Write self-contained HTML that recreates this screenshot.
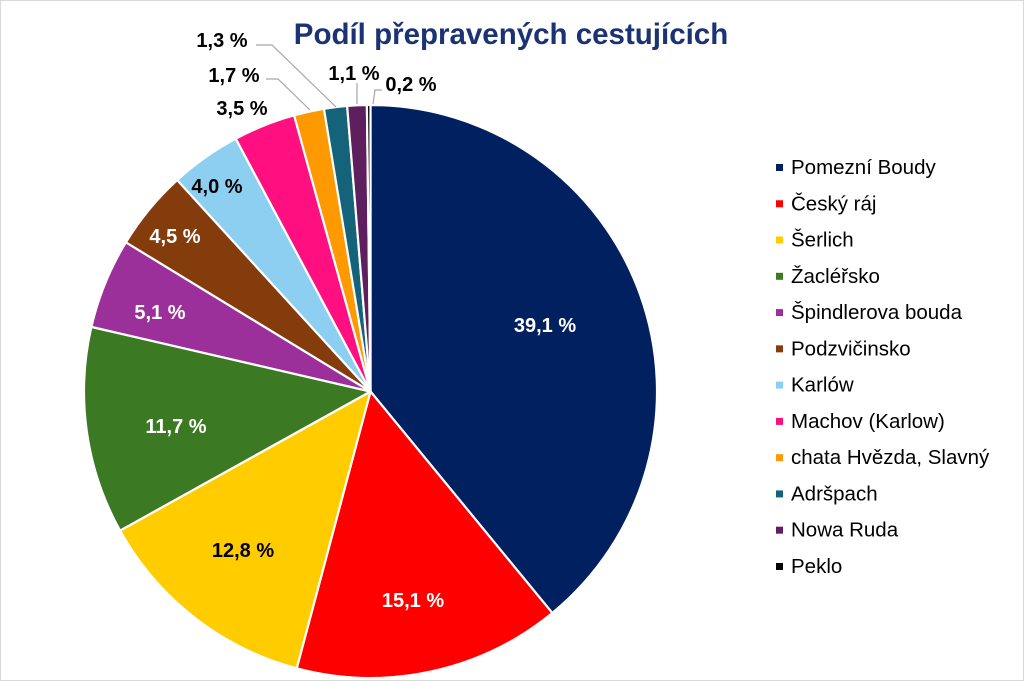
<!DOCTYPE html>
<html><head><meta charset="utf-8"><style>
body{margin:0;background:#fff;}
svg{display:block;font-family:"Liberation Sans",Arial,sans-serif;}
</style></head><body>
<svg id="s" width="1024" height="681" viewBox="0 0 1024 681" xmlns="http://www.w3.org/2000/svg">
<rect x="0.5" y="0.5" width="1023" height="680" fill="#fff" stroke="#d9d9d9"/>
<text x="511" y="44" text-anchor="middle" font-size="29.5" font-weight="bold" fill="#1b3372">Podíl přepravených cestujících</text>
<g id="pie"></g>
<g fill="none" stroke="#a6a6a6" stroke-width="1.2">
<polyline points="256,45 272,45 336,107"/>
<polyline points="266,79 278,79 310,110"/>
<polyline points="357,83 357,104"/>
<polyline points="373,104 375,90 382,90"/>
</g>
<g font-size="20" font-weight="bold" text-anchor="middle">
<text x="545" y="332" fill="#fff">39,1 %</text>
<text x="413" y="607" fill="#fff">15,1 %</text>
<text x="243" y="557" fill="#000">12,8 %</text>
<text x="176" y="433" fill="#fff">11,7 %</text>
<text x="160" y="319" fill="#fff">5,1 %</text>
<text x="175" y="243" fill="#fff">4,5 %</text>
<text x="217" y="193" fill="#000">4,0 %</text>
<text x="242" y="115" fill="#000">3,5 %</text>
<text x="234" y="82" fill="#000">1,7 %</text>
<text x="222" y="47" fill="#000">1,3 %</text>
<text x="354" y="80" fill="#000">1,1 %</text>
<text x="411" y="91" fill="#000">0,2 %</text>
</g>
<g id="leg" font-size="20.5" fill="#000"></g>
</svg>
<script>
var v=[39.1,15.1,12.8,11.7,5.1,4.5,4.0,3.5,1.7,1.3,1.1,0.2];
var c=["#002060","#ff0000","#ffcc00","#3b7a23","#9b309b","#843c0c","#8ccff0","#ff0f80","#ff9900","#15637a","#5e1f5e","#000000"];
var n=["Pomezní Boudy","Český ráj","Šerlich","Žacléřsko","Špindlerova bouda","Podzvičinsko","Karlów","Machov (Karlow)","chata Hvězda, Slavný","Adršpach","Nowa Ruda","Peklo"];
var tot=v.reduce(function(a,b){return a+b},0),cx=370.5,cy=391.5,r=286.5,a=0,h="",l="";
function p(t){return [cx+r*Math.sin(t),cy-r*Math.cos(t)];}
for(var i=0;i<v.length;i++){var a2=a+v[i]/tot*2*Math.PI,s=p(a),e=p(a2);
h+='<path d="M'+cx+','+cy+' L'+s[0].toFixed(2)+','+s[1].toFixed(2)+' A'+r+','+r+' 0 '+(a2-a>Math.PI?1:0)+' 1 '+e[0].toFixed(2)+','+e[1].toFixed(2)+' Z" fill="'+c[i]+'" stroke="#fff" stroke-width="2.2" stroke-linejoin="round"/>';a=a2;
var y=167+i*36.27;l+='<rect x="776" y="'+(y-3)+'" width="7" height="7" fill="'+c[i]+'"/><text x="791" y="'+(y+7)+'">'+n[i]+'</text>';}
document.getElementById("pie").innerHTML=h;document.getElementById("leg").innerHTML=l;
</script>
</body></html>
